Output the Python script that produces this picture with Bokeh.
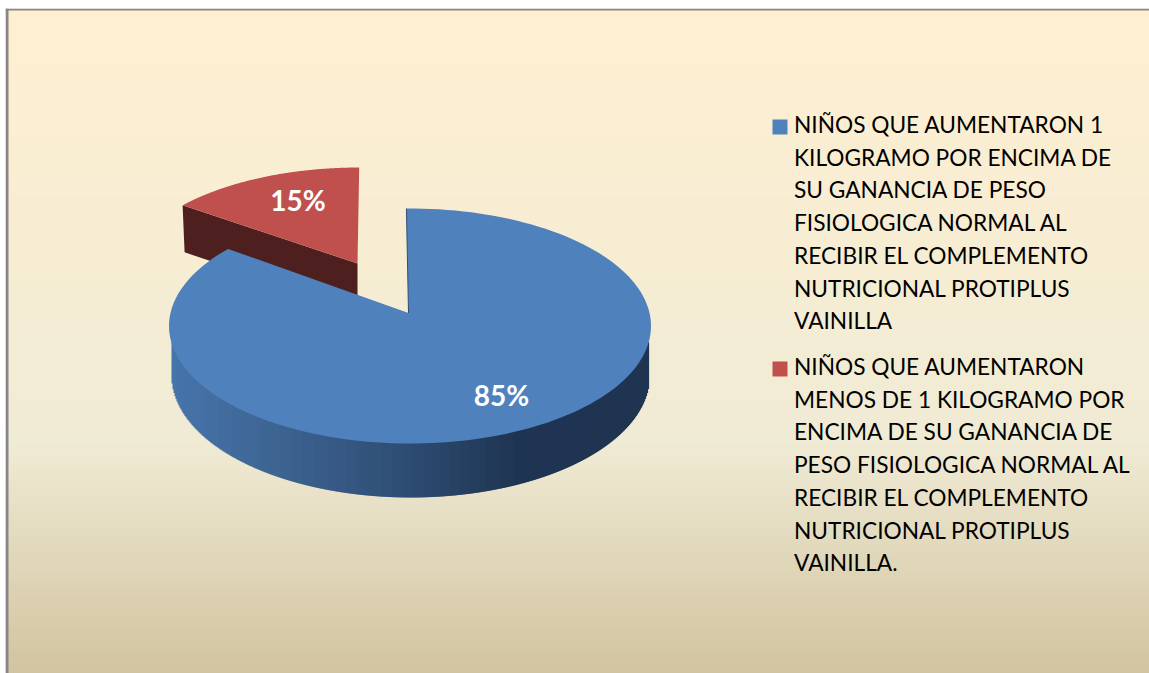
import math
from bokeh.plotting import figure
from bokeh.embed import file_html
from bokeh.resources import INLINE
from bokeh.core.properties import value

# --- data ---
SHARES = [85, 15]
COLORS = ["#4F81BD", "#C0504D"]
LEGEND_1 = ["NIÑOS QUE AUMENTARON 1", "KILOGRAMO POR ENCIMA DE", "SU GANANCIA DE PESO",
            "FISIOLOGICA NORMAL AL", "RECIBIR EL COMPLEMENTO",
            "NUTRICIONAL PROTIPLUS", "VAINILLA"]
LEGEND_2 = ["NIÑOS QUE AUMENTARON", "MENOS DE 1 KILOGRAMO POR", "ENCIMA DE SU GANANCIA DE",
            "PESO FISIOLOGICA NORMAL AL", "RECIBIR EL COMPLEMENTO",
            "NUTRICIONAL PROTIPLUS", "VAINILLA."]

W, H = 1144, 665
p = figure(width=W, height=H, x_range=(5, 5 + W), y_range=(8 + H, 8),
           output_backend="svg", toolbar_location=None, min_border=0,
           margin=(8, 0, 0, 5), outline_line_color=None)
p.axis.visible = False
p.grid.visible = False
p.border_fill_color = "white"
p.background_fill_color = "white"


def mix(a, b, f):
    ca = [int(a[i:i + 2], 16) for i in (1, 3, 5)]
    cb = [int(b[i:i + 2], 16) for i in (1, 3, 5)]
    return "#%02x%02x%02x" % tuple(round(x + (y - x) * f) for x, y in zip(ca, cb))


def ramp(stops, f):
    for (f0, c0), (f1, c1) in zip(stops, stops[1:]):
        if f <= f1:
            return mix(c0, c1, (f - f0) / (f1 - f0))
    return stops[-1][1]


# chart background (vertical parchment gradient)
BG = [(0, "#FFEFD1"), (0.65, "#F0EBD5"), (1, "#D1C39F")]
tops = list(range(8, 8 + H, 2))
p.quad(left=5, right=5 + W, top=tops, bottom=[t + 3 for t in tops],
       fill_color=[ramp(BG, (t - 8) / H) for t in tops], line_color=None)
# border of the chart area (left and top edges)
p.quad(left=[5, 5], right=[8, 5 + W], top=[8, 8], bottom=[8 + H, 10],
       fill_color="#868686", line_color=None)

# pie geometry
CX, CY, RX, RY = 409.5, 325.5, 241, 117.5
AX, AY = 408, 312.5            # blue apex
BX, BRX, BCY, BRY = 409.5, 239, 375, 122   # lower rim of the blue slice
RCX, RCY, RRX, RRY = 358.7, 277, 234, 110  # red slice (pulled out)
RAX, RAY = 357, 263
DEPTH = 47
boundary = SHARES[0] / sum(SHARES) * 360 + 5   # view foreshortening of the split


def arc(cx, cy, rx, ry, a0, a1, n=160):
    pts = [a0 + (a1 - a0) * i / n for i in range(n + 1)]
    return ([cx + rx * math.sin(math.radians(a)) for a in pts],
            [cy - ry * math.cos(math.radians(a)) for a in pts])


# red slice: dark wall then top
cx_, cy_ = arc(RCX, RCY, RRX, RRY, boundary, 360)
p.patch([cx_[0], RAX, RAX, cx_[0] + 2], [cy_[0], RAY, RAY + DEPTH, cy_[0] + DEPTH],
        fill_color="#4D1F1E", line_color=None)
p.patch(cx_ + [RAX], cy_ + [RAY], fill_color=COLORS[1], line_color=None)

# blue wall: strips with a left-to-right shade
WALL = [(0, "#4675AC"), (0.2, "#3F6694"), (0.48, "#2F4E75"), (0.72, "#1F3552"), (1, "#1F3551")]
tops_w, bots_w, cols, lefts, rights = [], [], [], [], []
for x in range(171, 648):
    u = (x - CX) / RX
    top_y = CY + RY * math.sqrt(max(0, 1 - u * u)) - 4
    v = min(1, abs(x - BX) / BRX)
    bot_y = BCY + BRY * math.sqrt(1 - v * v)
    lefts.append(x); rights.append(x + 1.6)
    tops_w.append(top_y); bots_w.append(max(bot_y, top_y))
    cols.append(ramp(WALL, (x - 169) / 482))
p.quad(left=lefts, right=rights, top=tops_w, bottom=bots_w, fill_color=cols, line_color=None)

# blue top
bx_, by_ = arc(CX, CY, RX, RY, -0.85, boundary)
p.patch(bx_ + [AX], by_ + [AY], fill_color=COLORS[0], line_color=None)
p.line([bx_[0], AX], [by_[0], AY], line_color="#2F4E75", line_width=1)

# percentage labels
lab_x = [501, 297.5]
lab_y = [394, 199.5]
p.text(x=lab_x, y=lab_y, text=[f"{v}%" for v in SHARES], text_color="white",
       text_font=value("Lato"), text_font_style="bold", text_font_size="28px",
       text_align="center", text_baseline="middle")

# legend
def legend_block(lines, y0, color):
    step = 32.7
    ys = [y0 - 1 + i * step for i in range(len(lines))]
    p.text(x=[793.5] * len(lines), y=ys, text=lines, text_color="black",
           text_font=value("Lato"), text_font_size="22.7px",
           text_align="left", text_baseline="middle")
    p.quad(left=[772], right=[787], top=[y0 - 6], bottom=[y0 + 9], fill_color=color, line_color=None)


legend_block(LEGEND_1, 125, COLORS[0])
legend_block(LEGEND_2, 367, COLORS[1])

open("out.html", "w").write(file_html(p, INLINE))
